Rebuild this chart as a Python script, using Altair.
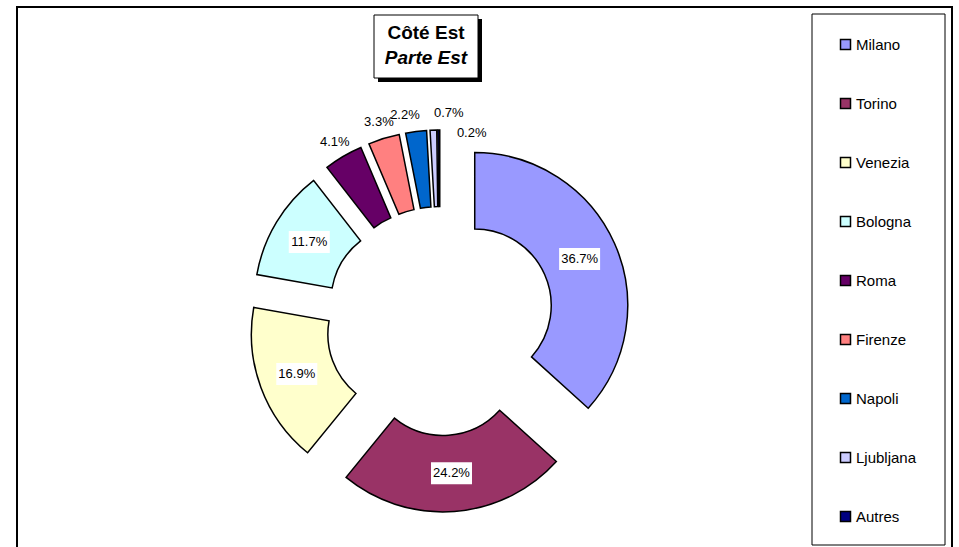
import math
import altair as alt
import pandas as pd

# ---- data ----
cities = ["Milano", "Torino", "Venezia", "Bologna", "Roma", "Firenze", "Napoli", "Ljubljana", "Autres"]
shares = [36.7, 24.2, 16.9, 11.7, 4.1, 3.3, 2.2, 0.7, 0.2]
colors = ["#9999FF", "#993366", "#FFFFCC", "#CCFFFF", "#660066", "#FF8080", "#0066CC", "#CCCCFF", "#000080"]
title_lines = ["Côté Est", "Parte Est"]

# ---- layout ----
W, H = 959, 547
CX, CY = 440, 321          # doughnut centre (px)
R = 153                    # outer radius (px)
HOLE = 0.5                 # inner radius / outer radius
EXPLODE = 38 / R           # explosion distance in radius units
FONT = "Liberation Sans"

# manual nudges (px) for the crowded outside labels
label_nudge_px = {"Napoli": (-9, 0), "Ljubljana": (16, 0), "Autres": (33, 20)}

df = pd.DataFrame({"city": cities, "share": shares, "order": list(range(len(cities)))})
df["ndx"] = [label_nudge_px.get(c, (0, 0))[0] / R for c in cities]
df["ndy"] = [-label_nudge_px.get(c, (0, 0))[1] / R for c in cities]

xs = alt.Scale(domain=[-CX / R, (W - CX) / R], nice=False, zero=False)
ys = alt.Scale(domain=[-(H - CY) / R, CY / R], nice=False, zero=False)
ts = alt.Scale(domain=[0, 100], range=[0, 2 * math.pi], zero=False, nice=False)

base = (
    alt.Chart(df)
    .transform_window(cum="sum(share)", sort=[alt.SortField("order")], frame=[None, 0])
    .transform_calculate(start="datum.cum - datum.share",
                         mid="(datum.cum - datum.share / 2) * 2 * PI / 100")
    .transform_calculate(ox=f"{EXPLODE} * sin(datum.mid)",
                         oy=f"{EXPLODE} * cos(datum.mid)",
                         pct="datum.share / 100",
                         inside="datum.share >= 10")
    .transform_calculate(ix="datum.ox + 0.75 * sin(datum.mid)",
                         iy="datum.oy + 0.75 * cos(datum.mid)",
                         ex="datum.ox + 1.11 * sin(datum.mid) + datum.ndx",
                         ey="datum.oy + 1.11 * cos(datum.mid) + datum.ndy")
)

arcs = base.mark_arc(radius=R, radius2=R * HOLE, stroke="black", strokeWidth=1.5).encode(
    x=alt.X("ox:Q", scale=xs, axis=None),
    y=alt.Y("oy:Q", scale=ys, axis=None),
    theta=alt.Theta("start:Q", scale=ts),
    theta2="cum:Q",
    color=alt.Color(
        "city:N",
        scale=alt.Scale(domain=cities, range=colors),
        legend=alt.Legend(
            title=None, orient="none", legendX=838, legendY=37,
            symbolType="square", symbolSize=100, symbolStrokeColor="black",
            symbolStrokeWidth=1.5, labelFont=FONT, labelFontSize=15,
            labelColor="black", labelOffset=3, rowPadding=42, padding=0,
        ),
    ),
)

boxes = base.transform_filter("datum.inside").mark_point(
    shape="M-1,-0.537H1V0.537H-1Z", size=1681, filled=True, color="white", opacity=1, strokeWidth=0
).encode(x=alt.X("ix:Q", scale=xs), y=alt.Y("iy:Q", scale=ys))

in_labels = base.transform_filter("datum.inside").mark_text(
    font=FONT, fontSize=13, color="black", align="center", baseline="middle"
).encode(x=alt.X("ix:Q", scale=xs), y=alt.Y("iy:Q", scale=ys), text=alt.Text("pct:Q", format=".1%"))

out_labels = base.transform_filter("!datum.inside").mark_text(
    font=FONT, fontSize=13, color="black", align="center", baseline="middle"
).encode(x=alt.X("ex:Q", scale=xs), y=alt.Y("ey:Q", scale=ys), text=alt.Text("pct:Q", format=".1%"))

deco = alt.Chart(alt.Data(values=[{}]))
frame = deco.mark_rect(fill="white", stroke="black", strokeWidth=2).encode(
    x=alt.value(17), x2=alt.value(952), y=alt.value(7), y2=alt.value(580))
legend_box = deco.mark_rect(fill="white", stroke="black", strokeWidth=1).encode(
    x=alt.value(812), x2=alt.value(945), y=alt.value(14), y2=alt.value(545))
shadow = deco.mark_rect(fill="black").encode(
    x=alt.value(378), x2=alt.value(482), y=alt.value(19), y2=alt.value(82))
title_box = deco.mark_rect(fill="white", stroke="black", strokeWidth=1).encode(
    x=alt.value(374), x2=alt.value(478), y=alt.value(15), y2=alt.value(78))
t1 = deco.mark_text(text=title_lines[0], font=FONT, fontSize=19, fontWeight="bold",
                    color="black", align="center", baseline="middle").encode(
    x=alt.value(426), y=alt.value(33))
t2 = deco.mark_text(text=title_lines[1], font=FONT, fontSize=19, fontWeight="bold",
                    fontStyle="italic", color="black", align="center", baseline="middle").encode(
    x=alt.value(426), y=alt.value(58))

chart = (
    alt.layer(frame, legend_box, arcs, boxes, in_labels, out_labels, shadow, title_box, t1, t2)
    .properties(width=W, height=H, padding=0, autosize="none", background="white")
    .configure_view(stroke=None)
)

chart.save("out.html", embed_options={"renderer": "svg", "actions": False})
